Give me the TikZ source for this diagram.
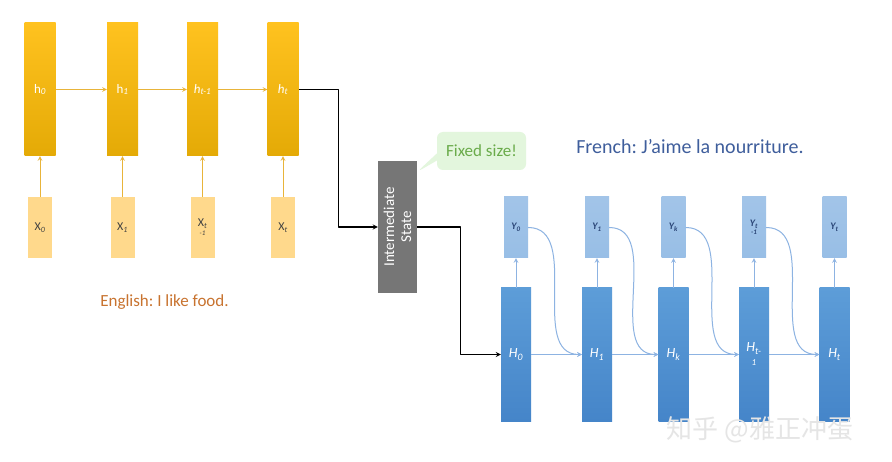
\documentclass[tikz,border=0pt]{standalone}
\usepackage{fontspec}
\setmainfont{Carlito}
\newfontfamily\cjk{Noto Sans CJK SC}
\usetikzlibrary{shapes.callouts}
\frenchspacing
\definecolor{encTop}{HTML}{FFC21F}
\definecolor{encBot}{HTML}{E4AA06}
\definecolor{encIn}{HTML}{FFD98C}
\definecolor{encLine}{HTML}{E8B43A}
\definecolor{decTop}{HTML}{5D9DD8}
\definecolor{decBot}{HTML}{4585C9}
\definecolor{decOut}{HTML}{A2C4E8}
\definecolor{decLine}{HTML}{8DB3E2}
\definecolor{ylab}{HTML}{2B4677}
\definecolor{interGray}{HTML}{767676}
\definecolor{fixFill}{HTML}{E3F6DD}
\definecolor{fixText}{HTML}{6AAB4A}
\definecolor{engText}{HTML}{C8732F}
\definecolor{frText}{HTML}{3F5E9C}
\begin{document}
\begin{tikzpicture}[x=1pt,y=-1pt,font=\fontsize{13}{14}\selectfont,line join=round,>=stealth,
  hbar/.style={minimum width=31pt,minimum height=133pt,inner sep=0pt,top color=encTop,bottom color=encBot,draw=none,text=white},
  xbox/.style={minimum width=24pt,minimum height=61pt,inner sep=0pt,fill=encIn,text=black!75,align=center,font=\fontsize{12}{12}\selectfont},
  Hbar/.style={minimum width=30pt,minimum height=133pt,inner sep=0pt,top color=decTop,bottom color=decBot,draw=none,text=white,align=center,font=\fontsize{14}{14}\selectfont},
  ybox/.style={minimum width=24pt,minimum height=61pt,inner sep=0pt,top color=decOut,bottom color=decOut!85!decTop,text=ylab,align=center,font=\fontsize{10}{10}\selectfont\bfseries\itshape},
  encarrow/.style={->,encLine,line width=1pt},
  decarrow/.style={->,decLine,line width=1pt},
  link/.style={->,black,line width=1.2pt}]
\useasboundingbox[fill=white] (0,0) rectangle (892,462);
% encoder
\node[hbar] (h0) at (40,89.5) {h\textsubscript{\textit{0}}};
\node[hbar] (h1) at (122.5,89.5) {h\textsubscript{\textit{1}}};
\node[hbar] (h2) at (202.5,89.5) {\textit{h\textsubscript{t-1}}};
\node[hbar] (h3) at (283,89.5) {\textit{h\textsubscript{t}}};
\node[xbox] (x0) at (40,227.5) {X\textsubscript{\textit{0}}};
\node[xbox] (x1) at (122.5,227.5) {X\textsubscript{\textit{1}}};
\node[xbox] (x2) at (202.5,227.5) {X\textsubscript{\textit{t}}\\[-3pt]{\fontsize{7}{7}\selectfont\textit{-1}}};
\node[xbox] (x3) at (283,227.5) {X\textsubscript{\textit{t}}};
\foreach \a/\b in {h0/h1,h1/h2,h2/h3} \draw[encarrow] (\a) -- (\b);
\foreach \i in {0,...,3} \draw[encarrow] (x\i) -- (h\i);
\node[text=engText,font=\fontsize{17}{17}\selectfont] (eng) at (164.5,302) {English: I like food.};
% intermediate state
\node[fill=interGray,text=white,rotate=90,minimum width=132pt,minimum height=39pt,inner sep=0pt,align=center,font=\fontsize{15}{17}\selectfont] (inter) at (397.5,227) {Intermediate\\State};
\node[rectangle callout,rounded corners=6pt,fill=fixFill,text=fixText,minimum width=89pt,minimum height=38pt,font=\fontsize{17}{17}\selectfont,callout absolute pointer={(417,172)}] (fix) at (481.5,151) {Fixed size!};
% decoder
\node[text=frText,font=\fontsize{20}{20}\selectfont] (fr) at (690,147) {French: J'aime la nourriture.};
\node[Hbar] (H0) at (516,354.5) {\textit{H\textsubscript{0}}};
\node[Hbar] (H1) at (597,354.5) {\textit{H\textsubscript{1}}};
\node[Hbar] (H2) at (673.5,354.5) {\textit{H\textsubscript{k}}};
\node[Hbar] (H3) at (754,354.5) {\textit{H\textsubscript{t-}}\\\textit{\fontsize{9}{9}\selectfont 1}};
\node[Hbar] (H4) at (834.5,354.5) {\textit{H\textsubscript{t}}};
\node[ybox] (Y0) at (516,227.5) {Y\textsubscript{0}};
\node[ybox] (Y1) at (597,227.5) {Y\textsubscript{1}};
\node[ybox] (Y2) at (673.5,227.5) {Y\textsubscript{k}};
\node[ybox] (Y3) at (754,227.5) {Y\textsubscript{t}\\[-2pt]{\fontsize{7}{7}\selectfont -1}};
\node[ybox] (Y4) at (834.5,227.5) {Y\textsubscript{t}};
\foreach \i in {0,...,4} \draw[decarrow] (H\i) -- (Y\i);
\foreach \a/\b in {0/1,1/2,2/3,3/4} {\draw[decarrow] (H\a) -- (H\b);
  \draw[decarrow] (Y\a.east) to[out=0,in=180] (H\b.west);}
% links through the state
\draw[link] (h3.east) -- ++(40,0) |- (inter.north);
\draw[link] (inter.south) -- ++(43,0) |- (H0.west);
\node[font=\cjk\fontsize{26}{26}\selectfont,text=white!80!gray] (wm) at (760,430) {知乎 @雅正冲蛋};
\end{tikzpicture}
\end{document}
